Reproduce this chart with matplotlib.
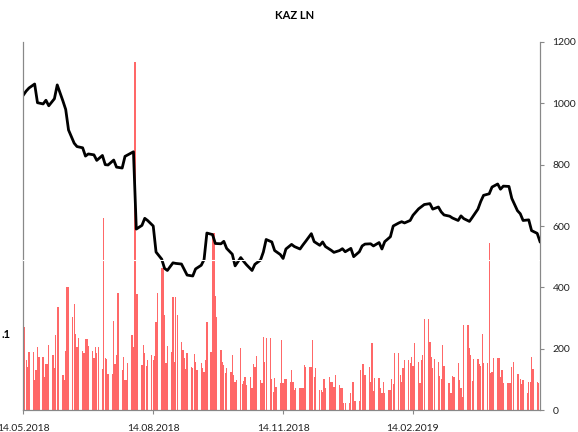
import numpy as np
import pandas as pd
import matplotlib
matplotlib.use("Agg")
import matplotlib.pyplot as plt
import matplotlib.dates as mdates

# dnevni volumen (skala desne osi), od 14.05.2018
volume = [
    168, 272, 163, 141, 188, 188, 98, 130, 206, 172,
    172, 109, 150, 150, 211, 179, 136, 243, 335, 335,
    114, 98, 192, 401, 401, 304, 345, 248, 204, 234,
    192, 185, 233, 233, 209, 193, 168, 204, 185, 206,
    133, 625, 171, 165, 116, 116, 290, 150, 179, 380,
    130, 174, 98, 98, 152, 245, 206, 1135, 377, 377,
    147, 212, 185, 143, 163, 179,
    163, 177, 288, 380, 462, 462, 310, 152, 209, 190,
    370, 158, 370, 310, 223, 196, 171, 133, 187, 141,
    136, 183, 158, 130, 154, 138, 125, 163, 288, 190,
    578, 578, 372, 304, 196, 158, 147, 120, 136, 125,
    179, 114, 92, 98, 201, 85, 96, 109, 82, 107,
    71, 150, 141, 176, 98, 87, 239, 158, 234, 234,
    100, 59, 103, 76, 87, 228,
    87, 100, 100, 92, 130, 92, 65, 71, 71, 71,
    71, 147, 141, 141, 141, 228, 107, 136, 65, 65,
    60, 100, 71, 109, 92, 92, 76, 114, 82, 71,
    71, 22, 22, 22, 54, 92, 92, 30, 30, 130,
    150, 150, 114, 141, 92, 217, 62, 103, 103, 71,
    57, 90, 57, 65, 65, 100, 85, 185, 185, 114,
    92, 136, 163, 163, 152, 174,
    143, 217, 158, 87, 163, 179, 296, 296, 223, 174,
    136, 165, 158, 111, 100, 212, 143, 87, 89, 57,
    111, 107, 154, 98, 71, 43, 276, 276, 201, 179,
    95, 165, 165, 150, 143, 248, 152, 152, 543, 120,
    125, 168, 168, 168, 107, 130, 89, 89, 89, 89,
    141, 158, 116, 116, 100, 85, 98, 57, 92, 92,
    174, 133, 92, 87,
]

# cijena, svaki drugi radni dan
price = [
    1027, 1040, 1050, 1063, 1002, 998, 1010, 992, 1015, 1060,
    1008, 980, 913, 870, 859, 855, 828, 835, 832, 814,
    830, 800, 799, 815, 792, 789, 827, 832, 842, 590,
    602, 625, 618, 600, 515, 492, 462, 455, 480, 478,
    476, 458, 440, 437, 460, 472, 490, 577, 572, 543,
    542, 550, 527, 508, 470, 497, 485, 474, 455, 475,
    489, 515, 556, 548, 520, 507, 494, 525, 540, 533,
    525, 538, 550, 575, 549, 537, 548, 533, 521, 514,
    520, 526, 516, 527, 500, 516, 535, 541, 542, 535,
    546, 525, 549, 565, 600, 610, 614, 610, 618, 635,
    656, 663, 670, 673, 655, 662, 646, 636, 632, 626,
    618, 633, 624, 615, 628, 655, 680, 700, 705, 727,
    737, 720, 730, 729, 690, 650, 640, 618, 620, 585,
    576, 549,
]

tick_dates = ["2018-05-14", "2018-08-14", "2018-11-14", "2019-02-14"]

dates = pd.bdate_range("2018-05-14", periods=len(volume))
price_dates = pd.bdate_range("2018-05-14", periods=len(price), freq="2B")

plt.rcParams["font.family"] = ["Lato", "DejaVu Sans"]

fig = plt.figure(figsize=(5.78, 4.32), dpi=100)
ax = fig.add_axes([0.0398, 0.0509, 0.8945, 0.8519])
ax2 = ax.twinx()

ax.bar(dates, volume, width=0.9, color="#ff6868", linewidth=0)
ax2.plot(price_dates, price, color="black", lw=2)

ax.set_ylim(0, 1200)
ax2.set_ylim(0, 1200)
ax.set_xlim(pd.Timestamp("2018-05-13 18:00"), pd.Timestamp("2019-05-15"))

ax.set_yticks([])
ax2.set_yticks(range(0, 1201, 200))
ax2.tick_params(axis="y", direction="out", length=3, pad=6, labelsize=7.5,
                color="#888888", labelcolor="#222222")

ax.xaxis.set_major_locator(matplotlib.ticker.FixedLocator(
    mdates.date2num(pd.to_datetime(tick_dates))))
ax.xaxis.set_major_formatter(mdates.DateFormatter("%d.%m.%Y"))
ax.tick_params(axis="x", direction="out", length=3, pad=7, labelsize=7.5,
               color="#888888", labelcolor="#222222")

for a in (ax, ax2):
    a.spines["top"].set_visible(False)
    for s in ("left", "right", "bottom"):
        a.spines[s].set_color("#888888")

# bijela linija preko grafa
ax2.axhline(489, color="white", lw=0.8, zorder=10)

fig.text(0.51, 0.963, "KAZ LN", ha="center", va="center", fontsize=8,
         fontweight="bold")
fig.text(0.003, 1 - 334 / 432, ".1", ha="left", va="center", fontsize=8,
         fontweight="bold")

fig.savefig("out.png", dpi=100)
